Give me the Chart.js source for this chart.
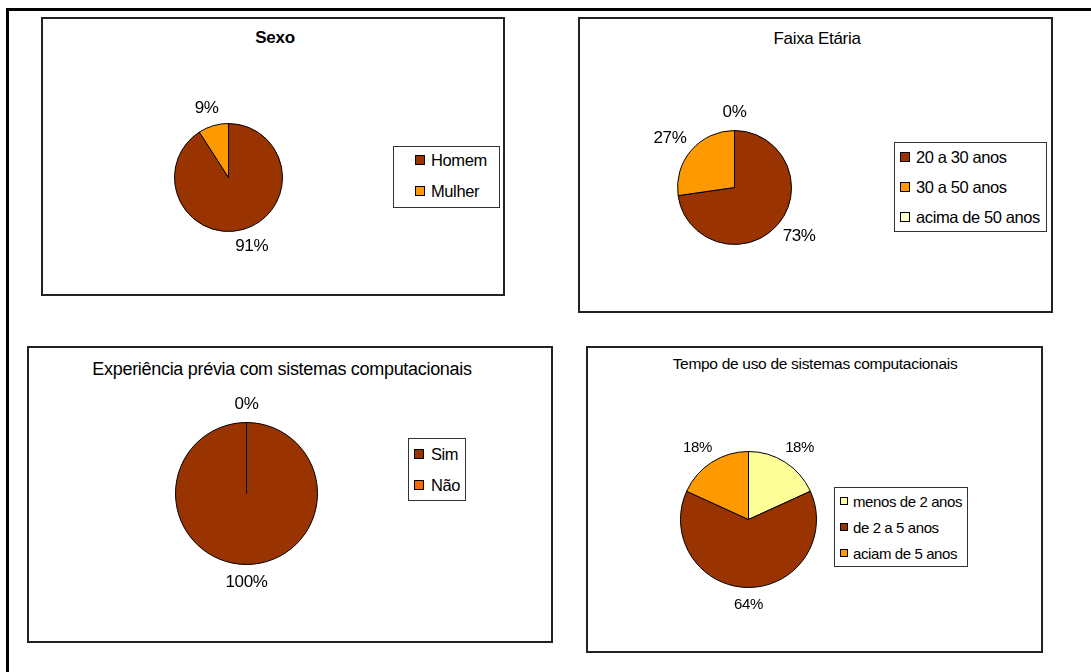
<!DOCTYPE html>
<html>
<head>
<meta charset="utf-8">
<script src="https://cdn.jsdelivr.net/npm/chart.js@4"></script>
<style>
  body { margin: 0; width: 1091px; height: 672px; overflow: hidden; background: #fff; position: relative;
         font-family: "Liberation Sans", Arial, sans-serif; color: #000; }
  .frame { position: absolute; left: 6px; top: 8px; width: 1200px; height: 800px; border: 3px solid #000; }
  .box { position: absolute; border: 2px solid #222; box-sizing: border-box; }
  .title { position: absolute; white-space: nowrap; transform: translate(-50%, -50%); letter-spacing: -0.3px; }
  .legend { position: absolute; border: 1px solid #333; box-sizing: border-box; background: #fff; }
  .item { position: absolute; white-space: nowrap; letter-spacing: -0.4px; transform: translateY(-50%); }
  .mk { position: absolute; border: 1px solid #000; box-sizing: border-box; transform: translateY(-50%); }
  canvas { position: absolute; }
</style>
</head>
<body>
<div class="frame"></div>
<script>
// respostas (n = 11)
const sexoLabels = ['Homem', 'Mulher'];
const sexoValues = [10, 1];
const sexoColors = ['#993300', '#FF9900'];

const idadeLabels = ['20 a 30 anos', '30 a 50 anos', 'acima de 50 anos'];
const idadeValues = [8, 3, 0];
const idadeColors = ['#993300', '#FF9900', '#FFFFCC'];

const expLabels = ['Sim', 'Não'];
const expValues = [11, 0];
const expColors = ['#993300', '#FF6600'];

const tempoLabels = ['menos de 2 anos', 'de 2 a 5 anos', 'aciam de 5 anos'];
const tempoValues = [2, 7, 2];
const tempoColors = ['#FFFF99', '#993300', '#FF9900'];

// percent labels outside each slice
const pctLabels = {
  id: 'pctLabels',
  afterDatasetsDraw(chart, args, opts) {
    const ctx = chart.ctx;
    const ds = chart.data.datasets[0];
    const total = ds.data.reduce((a, b) => a + b, 0);
    const meta = chart.getDatasetMeta(0);
    ctx.save();
    ctx.font = opts.size + 'px "Liberation Sans", Arial, sans-serif';
    ctx.letterSpacing = '-0.4px';
    ctx.fillStyle = '#000';
    ctx.textAlign = 'center';
    ctx.textBaseline = 'middle';
    meta.data.forEach((arc, i) => {
      const p = arc.getProps(['x', 'y', 'startAngle', 'endAngle', 'outerRadius'], true);
      const a = (p.startAngle + p.endAngle) / 2;
      const txt = Math.round(ds.data[i] / total * 100) + '%';
      const w = ctx.measureText(txt).width;
      const r = p.outerRadius + opts.gap;
      const x = p.x + Math.cos(a) * (r + w / 2);
      const y = p.y + Math.sin(a) * (r + opts.size * 0.36);
      ctx.fillText(txt, x, y);
    });
    ctx.restore();
  }
};

function el(cls, css, text) {
  const d = document.createElement('div');
  d.className = cls;
  Object.assign(d.style, css);
  if (text !== undefined) d.textContent = text;
  document.body.appendChild(d);
  return d;
}

function panel(cfg) {
  const b = cfg.box;
  el('box', { left: b[0] + 'px', top: b[1] + 'px', width: (b[2] - b[0]) + 'px', height: (b[3] - b[1]) + 'px' });
  el('title', { left: cfg.titleX + 'px', top: cfg.titleY + 'px', fontSize: cfg.titleSize + 'px',
                fontWeight: cfg.bold ? 'bold' : 'normal' }, cfg.title);

  const pad = 60;
  const cv = document.createElement('canvas');
  const size = 2 * (cfg.r + pad) + 1;
  cv.width = size; cv.height = size;
  cv.style.left = (cfg.cx - cfg.r - pad) + 'px';
  cv.style.top = (cfg.cy - cfg.r - pad) + 'px';
  document.body.appendChild(cv);

  new Chart(cv, {
    type: 'pie',
    data: {
      labels: cfg.labels,
      datasets: [{
        data: cfg.values,
        backgroundColor: cfg.colors,
        borderColor: '#000',
        borderWidth: 1
      }]
    },
    options: {
      responsive: false,
      animation: false,
      layout: { padding: pad },
      plugins: {
        legend: { display: false },
        tooltip: { enabled: false },
        pctLabels: { size: cfg.labelSize, gap: 12 }
      }
    },
    plugins: [pctLabels]
  });

  const L = cfg.legend;
  el('legend', { left: L.rect[0] + 'px', top: L.rect[1] + 'px', width: L.rect[2] + 'px', height: L.rect[3] + 'px' });
  cfg.labels.forEach((lab, i) => {
    el('mk', { left: L.mx + 'px', top: L.rows[i] + 'px', width: L.ms + 'px', height: L.ms + 'px',
               background: cfg.colors[i] });
    el('item', { left: L.tx + 'px', top: L.rows[i] + 'px', fontSize: L.size + 'px' }, lab);
  });
}

panel({
  box: [41, 17, 505, 296], title: 'Sexo', bold: true, titleX: 275, titleY: 38, titleSize: 17,
  cx: 228, cy: 177, r: 54, labelSize: 17,
  labels: sexoLabels, values: sexoValues, colors: sexoColors,
  legend: { rect: [393, 146, 107, 62], rows: [160, 191], mx: 415, ms: 10, tx: 431, size: 16.5 }
});

panel({
  box: [578, 17, 1053, 313], title: 'Faixa Etária', titleX: 817, titleY: 39, titleSize: 17,
  cx: 734, cy: 187, r: 57, labelSize: 17,
  labels: idadeLabels, values: idadeValues, colors: idadeColors,
  legend: { rect: [894, 142, 153, 90], rows: [157, 187, 217], mx: 900, ms: 10, tx: 916, size: 16.5 }
});

panel({
  box: [27, 346, 553, 643], title: 'Experiência prévia com sistemas computacionais', titleX: 282, titleY: 369, titleSize: 18,
  cx: 246, cy: 493, r: 71, labelSize: 17,
  labels: expLabels, values: expValues, colors: expColors,
  legend: { rect: [408, 438, 58, 63], rows: [454, 485], mx: 414, ms: 10, tx: 431, size: 16.5 }
});

panel({
  box: [586, 346, 1043, 653], title: 'Tempo de uso de sistemas computacionais', titleX: 815, titleY: 364, titleSize: 15.5,
  cx: 748, cy: 519, r: 68, labelSize: 15,
  labels: tempoLabels, values: tempoValues, colors: tempoColors,
  legend: { rect: [834, 487, 134, 80], rows: [501, 527, 553], mx: 840, ms: 8, tx: 853, size: 15 }
});
</script>
</body>
</html>
